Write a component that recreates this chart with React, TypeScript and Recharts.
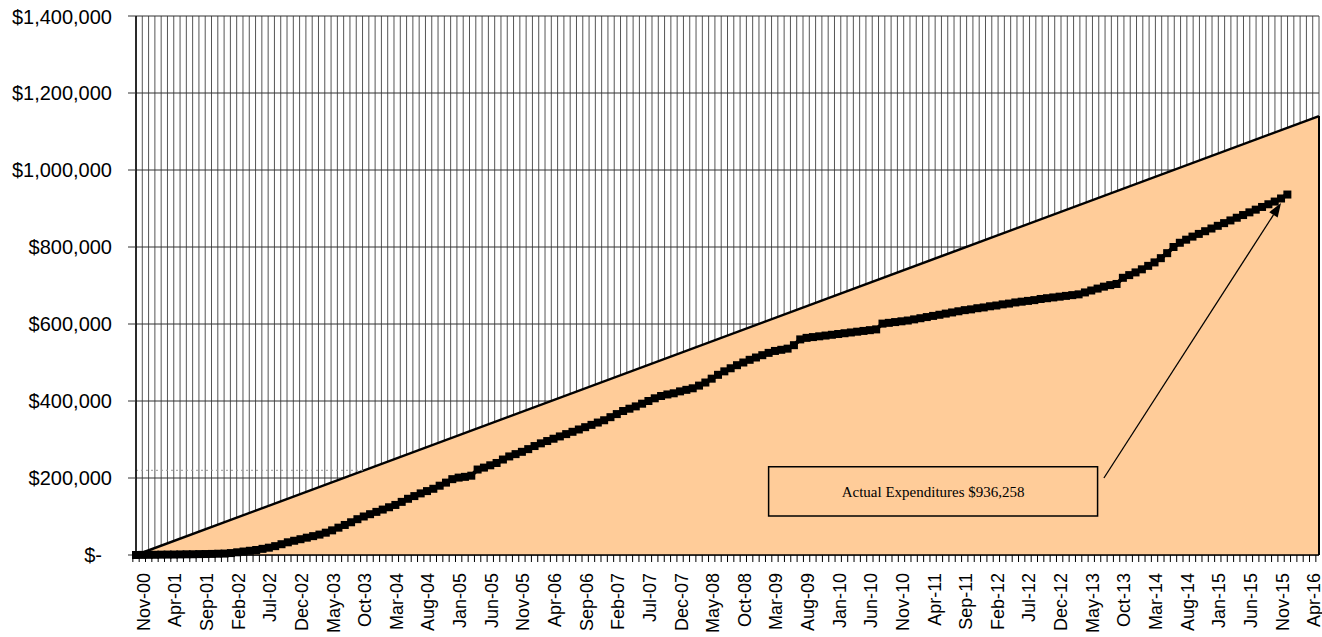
// Cumulative expenditures vs. planned budget line (monthly, Nov-00 .. Jun-16)

import {
  ComposedChart,
  Area,
  Line,
  XAxis,
  YAxis,
  CartesianGrid,
  ReferenceLine,
  ReferenceArea,
} from 'recharts';

// =============================================================================
// Data
// =============================================================================

const MONTH_NAMES = ['Jan', 'Feb', 'Mar', 'Apr', 'May', 'Jun', 'Jul', 'Aug', 'Sep', 'Oct', 'Nov', 'Dec'];
const START_YEAR = 2000;
const START_MONTH = 10; // Nov
const MONTH_COUNT = 188; // Nov-00 .. Jun-16

const MONTHS: string[] = Array.from({ length: MONTH_COUNT }, (_, i) => {
  const m = (START_MONTH + i) % 12;
  const y = START_YEAR + Math.floor((START_MONTH + i) / 12);
  return `${MONTH_NAMES[m]}-${String(y % 100).padStart(2, '0')}`;
});

// planned budget: straight line from first to last month
const PLANNED_START = 0;
const PLANNED_END = 1140000;

// actual cumulative expenditures, Nov-00 .. Jan-16
const ACTUAL: number[] = [
  0, 300, 500, 600, 900, 1100, 1200, 1500, 1800, 1900,
  2300, 2500, 2800, 3300, 3700, 5000, 7000, 9000, 11000, 13000,
  16000, 19000, 23000, 28000, 33000, 37000, 41000, 45000, 49000, 53000,
  58000, 64000, 71000, 78000, 85000, 93000, 100000, 106000, 112000, 118000,
  124000, 130000, 138000, 146000, 153000, 160000, 166000, 172000, 180000, 188000,
  197000, 201000, 203000, 206000, 222000, 227000, 233000, 239000, 248000, 256000,
  262000, 268000, 275000, 283000, 290000, 296000, 302000, 308000, 314000, 320000,
  326000, 332000, 338000, 344000, 350000, 358000, 366000, 374000, 380000, 386000,
  393000, 400000, 407000, 413000, 417000, 420000, 425000, 429000, 433000, 440000,
  448000, 458000, 468000, 477000, 485000, 493000, 500000, 507000, 513000, 519000,
  525000, 530000, 533000, 536000, 545000, 560000, 564000, 566000, 568000, 570000,
  572000, 574000, 576000, 578000, 580000, 582000, 584000, 586000, 601000, 603000,
  605000, 607000, 609000, 612000, 615000, 618000, 621000, 624000, 627000, 630000,
  633000, 636000, 638000, 641000, 643000, 646000, 648000, 651000, 653000, 656000,
  658000, 660000, 662000, 665000, 667000, 669000, 671000, 673000, 675000, 677000,
  682000, 687000, 692000, 697000, 701000, 704000, 720000, 727000, 734000, 742000,
  751000, 760000, 771000, 784000, 800000, 811000, 819000, 827000, 834000, 841000,
  848000, 855000, 862000, 869000, 876000, 883000, 890000, 897000, 904000, 911000,
  918000, 926000, 936258,
];

const Y_TICKS = [0, 200000, 400000, 600000, 800000, 1000000, 1200000, 1400000];

const ANNOTATION = 'Actual Expenditures $936,258';

// =============================================================================
// Layout
// =============================================================================

const PAGE_W = 1322;
const PAGE_H = 637;
const OFFSET = 8;
const CHART_W = PAGE_W - OFFSET;
const CHART_H = PAGE_H - OFFSET;
const MARGIN = { top: 8, right: 3, left: 0, bottom: 0 };
const YAXIS_W = 128;
const XAXIS_H = 82;
const PLOT_LEFT = MARGIN.left + YAXIS_W;
const PLOT_W = CHART_W - PLOT_LEFT - MARGIN.right;
const STEP = PLOT_W / MONTH_COUNT;

const SANS = '"Liberation Sans", Arial, sans-serif';
const SERIF = '"Liberation Serif", "Times New Roman", serif';

const chartData = MONTHS.map((month, i) => ({
  month,
  planned: i === 0 ? PLANNED_START : i === MONTH_COUNT - 1 ? PLANNED_END : null,
  actual: i < ACTUAL.length ? ACTUAL[i] : null,
}));

const formatDollar = (v: number) => (v === 0 ? '$-' : '$' + v.toLocaleString('en-US'));

// =============================================================================
// Custom ticks / shapes
// =============================================================================

function XTick({ x, y, payload, index }: any) {
  return (
    <g transform={`translate(${x},${y})`}>
      <line x1={-STEP / 2} x2={-STEP / 2} y1={-18} y2={-11} stroke="#000" strokeWidth={1} />
      {index % 5 === 0 && (
        <text
          transform="rotate(-90)"
          x={0}
          y={7.5}
          dy="0.35em"
          textAnchor="end"
          fontFamily={SANS}
          fontSize={18}
          fill="#000"
        >
          {payload.value}
        </text>
      )}
    </g>
  );
}

function YTick({ x, y, payload }: any) {
  return (
    <text
      x={x}
      y={y}
      dx={payload.value === 0 ? -10 : 0}
      dy="0.35em"
      textAnchor="end"
      fontFamily={SANS}
      fontSize={20}
      fill="#000"
    >
      {formatDollar(payload.value)}
    </text>
  );
}

function SquareDot({ cx, cy, index }: any) {
  if (cx == null || cy == null) return <g key={`d-${index}`} />;
  return <rect key={`d-${index}`} x={cx - 4} y={cy - 4} width={8} height={8} fill="#000" />;
}

function ArrowShape(props: any) {
  const { x1, y1, x2, y2 } = props;
  if ([x1, y1, x2, y2].some((v) => v == null || Number.isNaN(v))) return <g />;
  const ang = Math.atan2(y2 - y1, x2 - x1);
  const len = 14;
  const half = 5;
  const bx = x2 - len * Math.cos(ang);
  const by = y2 - len * Math.sin(ang);
  const px = -Math.sin(ang) * half;
  const py = Math.cos(ang) * half;
  return (
    <g>
      <line x1={x1} y1={y1} x2={bx} y2={by} stroke="#000" strokeWidth={1.3} />
      <polygon points={`${x2},${y2} ${bx + px},${by + py} ${bx - px},${by - py}`} fill="#000" />
    </g>
  );
}

// =============================================================================
// Component
// =============================================================================

export default function App() {
  const verticalLines = Array.from({ length: MONTH_COUNT + 1 }, (_, k) => PLOT_LEFT + k * STEP);

  return (
    <div
      style={{
        position: 'fixed',
        left: 0,
        top: 0,
        width: PAGE_W,
        height: PAGE_H,
        overflow: 'hidden',
        background: '#fff',
      }}
    >
      <style>{'html,body{margin:0;overflow:hidden;}'}</style>
      <div style={{ position: 'absolute', left: OFFSET, top: OFFSET, width: CHART_W, height: CHART_H }}>
        <ComposedChart width={CHART_W} height={CHART_H} data={chartData} margin={MARGIN}>
          <CartesianGrid
            horizontal={false}
            vertical
            stroke="#555"
            strokeWidth={1}
            verticalCoordinatesGenerator={() => verticalLines}
          />
          <CartesianGrid horizontal vertical={false} stroke="#333" strokeWidth={1} />
          <XAxis
            dataKey="month"
            interval={0}
            height={XAXIS_H}
            tickSize={7}
            tickMargin={11}
            tickLine={false}
            axisLine={{ stroke: '#000', strokeWidth: 1.5 }}
            tick={<XTick />}
          />
          <YAxis
            width={YAXIS_W}
            domain={[0, 1400000]}
            ticks={Y_TICKS}
            tickSize={8}
            tickMargin={16}
            tickLine={{ stroke: '#333' }}
            axisLine={{ stroke: '#000', strokeWidth: 1.5 }}
            tick={<YTick />}
          />
          <ReferenceLine
            segment={[{ x: 'Nov-00', y: 220000 }, { x: 'Nov-03', y: 220000 }]}
            stroke="#999"
            strokeDasharray="2 3"
          />
          <Area
            dataKey="planned"
            type="linear"
            connectNulls
            fill="#FFCC99"
            fillOpacity={1}
            stroke="#000"
            strokeWidth={2.5}
            isAnimationActive={false}
          />
          <ReferenceLine
            segment={[{ x: MONTHS[MONTH_COUNT - 1], y: 0 }, { x: MONTHS[MONTH_COUNT - 1], y: PLANNED_END }]}
            stroke="#000"
            strokeWidth={2}
          />
          <Line
            dataKey="actual"
            type="linear"
            stroke="#000"
            strokeWidth={4}
            dot={<SquareDot />}
            activeDot={false}
            isAnimationActive={false}
          />
          <ReferenceArea
            x1="Mar-09"
            x2="Jul-13"
            y1={101000}
            y2={229000}
            fill="none"
            stroke="#000"
            strokeWidth={1.5}
            label={{ value: ANNOTATION, position: 'center', fontFamily: SERIF, fontSize: 15, fill: '#000' }}
          />
          <ReferenceLine
            segment={[{ x: 'Aug-13', y: 200000 }, { x: 'Dec-15', y: 914000 }]}
            shape={<ArrowShape />}
          />
        </ComposedChart>
      </div>
    </div>
  );
}
